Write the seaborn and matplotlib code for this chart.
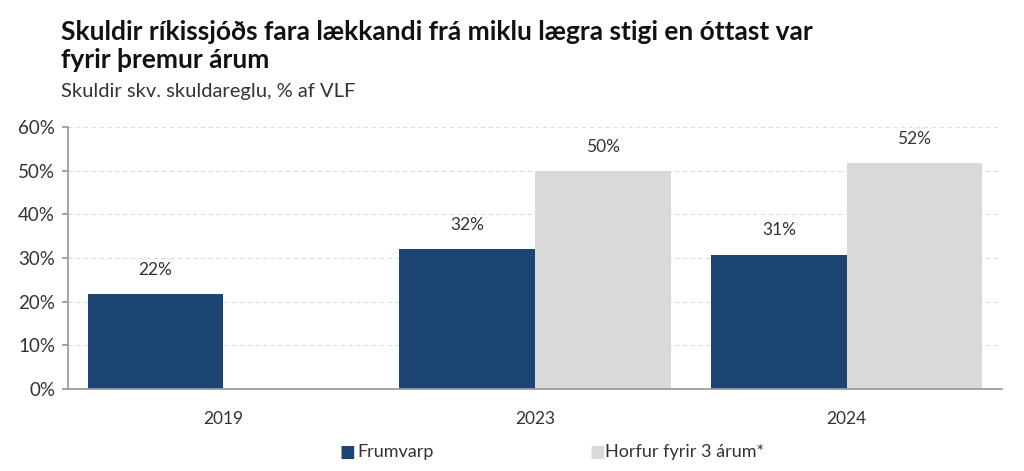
import pandas as pd
import seaborn as sns
import matplotlib.pyplot as plt
from matplotlib.ticker import FuncFormatter

# Gögn
ar = ['2019', '2023', '2024']
frumvarp = [21.7, 32.0, 30.7]
horfur = [None, 49.9, 51.7]
raðir = ['Frumvarp', 'Horfur fyrir 3 árum*']

df = pd.DataFrame({
    'ár': ar * 2,
    'gildi': frumvarp + horfur,
    'röð': [raðir[0]] * 3 + [raðir[1]] * 3,
})

sns.set_theme(style='white')
plt.rcParams['font.family'] = ['Lato', 'DejaVu Sans']

fig = plt.figure(figsize=(10.24, 4.71), dpi=100)
ax = fig.add_axes([0.066, 0.174, 0.913, 0.556])

sns.barplot(data=df, x='ár', y='gildi', hue='röð', width=0.87, linewidth=0,
            palette=['#1c4573', '#d9d9d9'], saturation=1, ax=ax, legend=False)

# Gildismerki ofan á súlum
for bars in ax.containers:
    for bar in bars:
        if bar is None:
            continue
        h = bar.get_height()
        if h != h or h == 0:
            continue
        ax.annotate(f'{h:.0f}%', (bar.get_x() + bar.get_width() / 2, h),
                    xytext=(0, 12), textcoords='offset points', ha='center',
                    va='bottom', fontsize=12.5, color='#333333')

ax.set_ylim(0, 60)
ax.set_yticks(range(0, 61, 10))
ax.yaxis.set_major_formatter(FuncFormatter(lambda v, p: f'{v:.0f}%'))
ax.grid(axis='y', linestyle=(0, (4, 3)), color='#dddddd', linewidth=0.8)
ax.set_axisbelow(True)
ax.set_xlabel('')
ax.set_ylabel('')
for s in ['top', 'right']:
    ax.spines[s].set_visible(False)
ax.spines['left'].set_color('#999999')
ax.spines['bottom'].set_color('#999999')
ax.tick_params(axis='y', left=True, length=4, color='#999999', labelsize=13.5,
               labelcolor='#333333', pad=5)
ax.tick_params(axis='x', bottom=False, labelsize=12.5, labelcolor='#333333', pad=10)

fig.text(0.06, 0.958, 'Skuldir ríkissjóðs fara lækkandi frá miklu lægra stigi en óttast var\nfyrir þremur árum',
         fontsize=19, fontweight='bold', color='#111111', va='top', linespacing=1.2)
fig.text(0.06, 0.805, 'Skuldir skv. skuldareglu, % af VLF', fontsize=14.5,
         color='#333333', va='center')

# Skýringar
fig.text(0.332, 0.04, '■', fontsize=12, color='#1c4573', va='center')
fig.text(0.349, 0.04, raðir[0], fontsize=13, color='#333333', va='center')
fig.text(0.576, 0.04, '■', fontsize=12, color='#d9d9d9', va='center')
fig.text(0.591, 0.04, raðir[1], fontsize=13, color='#333333', va='center')

fig.savefig('out.png', dpi=100)
